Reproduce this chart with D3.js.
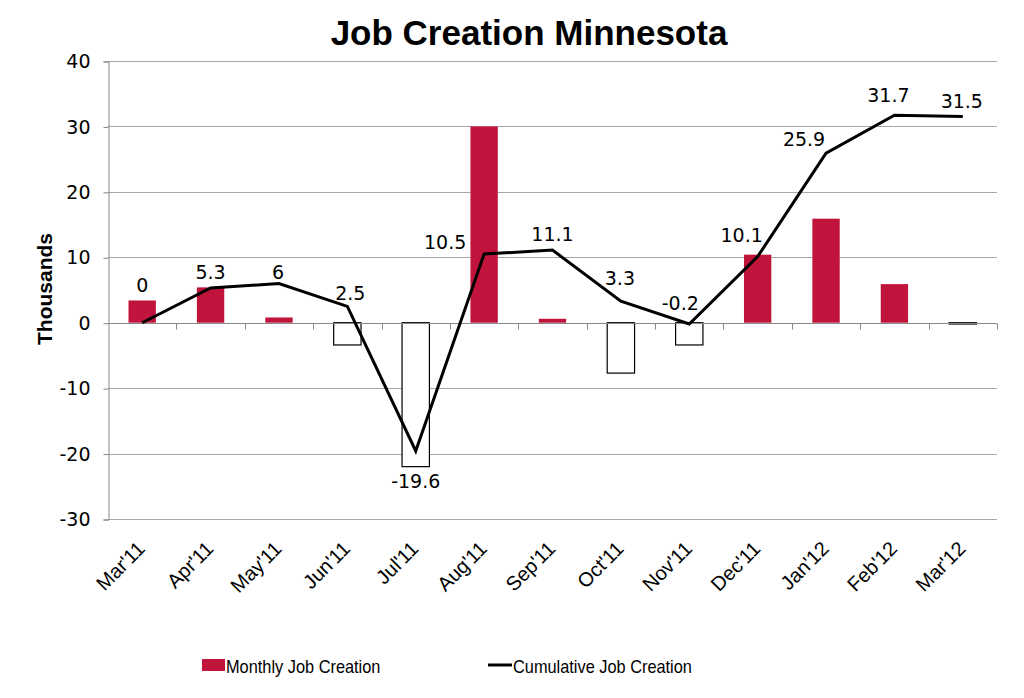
<!DOCTYPE html>
<html>
<head>
<meta charset="utf-8">
<script src="https://cdn.jsdelivr.net/npm/d3@7"></script>
<style>
  body { margin: 0; background: #fff; }
  svg { display: block; font-family: "Liberation Sans", Arial, sans-serif; }
</style>
</head>
<body>
<svg id="chart" width="1024" height="698"></svg>
<script>
const categories = ["Mar'11","Apr'11","May'11","Jun'11","Jul'11","Aug'11","Sep'11","Oct'11","Nov'11","Dec'11","Jan'12","Feb'12","Mar'12"];
const monthly = [3.4, 5.4, 0.8, -3.4, -22.0, 30.0, 0.6, -7.7, -3.4, 10.4, 15.9, 5.9, -0.2];
const cumulative = [0, 5.3, 6, 2.5, -19.6, 10.5, 11.1, 3.3, -0.2, 10.1, 25.9, 31.7, 31.5];
const cumulativeLabels = ["0","5.3","6","2.5","-19.6","10.5","11.1","3.3","-0.2","10.1","25.9","31.7","31.5"];
const yTicks = [-30, -20, -10, 0, 10, 20, 30, 40];
const yTickLabels = ["-30","-20","-10","0","10","20","30","40"];
// label offsets (px) relative to each point: [dx, dy]
const labelOffsets = [[0,-38],[0,-16],[-1,-11],[3,-13],[0,30],[-39,-12],[0,-16],[-1,-23],[-9,-21],[-16,-22],[-22,-14],[-6,-20],[-1,-16]];

const svg = d3.select("#chart");
const margin = {left: 108, right: 1024 - 997, top: 61, bottom: 698 - 519};
const W = 1024, H = 698;
const numFont = "DejaVu Sans, Verdana, sans-serif";

function stretch(sel, f) {
  sel.each(function () {
    const w = this.getComputedTextLength();
    d3.select(this).attr("textLength", w * f).attr("lengthAdjust", "spacingAndGlyphs");
  });
}

const x = d3.scaleBand().domain(categories).range([margin.left, W - margin.right]).paddingInner(0).paddingOuter(0);
const y = d3.scaleLinear().domain([-30, 40]).range([H - margin.bottom, margin.top]);

// gridlines
svg.append("g").selectAll("line").data(yTicks).join("line")
  .attr("x1", margin.left).attr("x2", W - margin.right)
  .attr("y1", d => Math.round(y(d)) + 0.5).attr("y2", d => Math.round(y(d)) + 0.5)
  .attr("stroke", "#a6a6a6").attr("stroke-width", 1);

// y axis
const yAxis = d3.axisLeft(y).tickValues(yTicks).tickSize(5).tickPadding(13)
  .tickFormat((d, i) => yTickLabels[i]);
const gy = svg.append("g").attr("transform", `translate(${margin.left + 0.5},0.5)`).call(yAxis);
gy.select(".domain").attr("stroke", "#888");
gy.selectAll(".tick line").attr("stroke", "#888");
gy.selectAll(".tick text").attr("font-size", 19).attr("fill", "#000").attr("font-family", numFont);

// bars
const barW = x.bandwidth() * 0.4;
svg.append("g").selectAll("rect").data(monthly).join("rect")
  .attr("x", (d, i) => x(categories[i]) + (x.bandwidth() - barW) / 2)
  .attr("width", barW)
  .attr("y", d => y(Math.max(0, d)))
  .attr("height", d => Math.abs(y(d) - y(0)))
  .attr("fill", d => d >= 0 ? "#c0143c" : "#ffffff")
  .attr("stroke", d => d >= 0 ? "none" : "#000")
  .attr("stroke-width", 1.2);

// x axis at zero
const zeroY = Math.round(y(0)) + 0.5;
svg.append("line").attr("x1", margin.left).attr("x2", W - margin.right)
  .attr("y1", zeroY).attr("y2", zeroY).attr("stroke", "#888");
const bounds = categories.map(c => x(c)).concat([W - margin.right]);
svg.append("g").selectAll("line").data(bounds.slice(1)).join("line")
  .attr("x1", d => Math.round(d) + 0.5).attr("x2", d => Math.round(d) + 0.5)
  .attr("y1", zeroY).attr("y2", zeroY + 6).attr("stroke", "#888");

// category labels
svg.append("g").selectAll("text").data(categories).join("text")
  .attr("transform", d => `translate(${x(d) + x.bandwidth() / 2 + 4},${H - margin.bottom + 31}) rotate(-45)`)
  .attr("text-anchor", "end")
  .attr("font-size", 20)
  .attr("fill", "#000")
  .text(d => d);

// cumulative line
const line = d3.line().x((d, i) => x(categories[i]) + x.bandwidth() / 2).y(d => y(d));
svg.append("path").datum(cumulative).attr("d", line)
  .attr("fill", "none").attr("stroke", "#000").attr("stroke-width", 3).attr("stroke-linejoin", "miter");

// data labels
svg.append("g").selectAll("text").data(cumulative).join("text")
  .attr("x", (d, i) => x(categories[i]) + x.bandwidth() / 2 + labelOffsets[i][0])
  .attr("y", (d, i) => y(d) + labelOffsets[i][1])
  .attr("text-anchor", "middle")
  .attr("dominant-baseline", "central")
  .attr("font-size", 19)
  .attr("font-family", numFont)
  .attr("fill", "#000")
  .text((d, i) => cumulativeLabels[i]);

// title
svg.append("text").attr("x", 529).attr("y", 45).attr("text-anchor", "middle")
  .attr("font-size", 35).attr("font-weight", "bold").text("Job Creation Minnesota");

// y axis title
svg.append("text").attr("transform", "translate(52,289) rotate(-90)").attr("text-anchor", "middle")
  .attr("font-size", 21).attr("font-weight", "bold").text("Thousands");

// legend
const legend = svg.append("g");
legend.append("rect").attr("x", 202).attr("y", 659).attr("width", 23).attr("height", 12).attr("fill", "#c0143c");
legend.append("text").attr("x", 226).attr("y", 666).attr("dominant-baseline", "central").attr("font-size", 19)
  .text("Monthly Job Creation").call(stretch, 0.86);
legend.append("line").attr("x1", 488).attr("x2", 512).attr("y1", 665).attr("y2", 665).attr("stroke", "#000").attr("stroke-width", 3);
legend.append("text").attr("x", 513).attr("y", 666).attr("dominant-baseline", "central").attr("font-size", 19)
  .text("Cumulative Job Creation").call(stretch, 0.86);
</script>
</body>
</html>
